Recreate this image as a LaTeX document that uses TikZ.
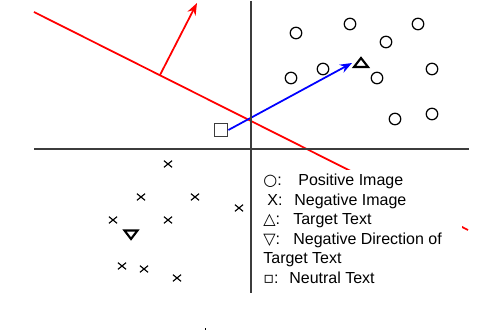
\documentclass[tikz,border=0pt]{standalone}
\usepackage{fontspec}
\setmainfont{Liberation Sans}
\newfontfamily\glyphfont{DejaVu Sans}
\usetikzlibrary{arrows.meta,shapes.misc}
\definecolor{axisgrey}{HTML}{3C3C3C}
\definecolor{hypred}{HTML}{FF0000}
\definecolor{dirblue}{HTML}{0000FF}
\tikzset{
  axis/.style={axisgrey,line width=0.8pt},
  hypline/.style={hypred,line width=1pt},
  posimg/.style={circle,draw=black,line width=0.7pt,minimum size=0.23cm,inner sep=0pt},
  negimg/.style={cross out,draw=black,line width=0.65pt,minimum width=0.14cm,
                 minimum height=0.11cm,inner sep=0pt},
  tritext/.style={black,line width=1.2pt,line join=miter},
  neutral/.style={rectangle,draw=axisgrey,fill=white,line width=0.75pt,
                  minimum size=0.27cm,inner sep=0pt},
  legtext/.style={anchor=base west,inner sep=0pt,font=\fontsize{9.1}{11}\selectfont}
}

\begin{document}
\begin{tikzpicture}[x=0.02cm,y=-0.02cm,>={Stealth[length=0.24cm,width=0.18cm]}]
    \useasboundingbox (0,0) rectangle (504,330);

    % hyperplane and its normal
    \coordinate (hypA) at (34,12);
    \coordinate (hypB) at (468,230);
    \coordinate (hypM) at (160,75);
    \coordinate (normTip) at (197,3);
    \draw[hypline] (hypA) -- (hypB);
    \draw[hypline,->] (hypM) -- (normTip);

    % positive images
    \foreach \x/\y [count=\i] in {296/33,350/24,418/24,386/42,323/69,
                                  291/78,377/78,432/69,395/119,432/114}
      \node[posimg] (pos\i) at (\x,\y) {};

    % negative images
    \foreach \x/\y [count=\i] in {168/164,141/197,195/197,239/208,113/220,
                                  168/220,122/266,144/269,177/278}
      \node[negimg] (neg\i) at (\x,\y) {};

    % target text and negative direction
    \draw[tritext] (361,58) -- (354,67) -- (368,67) -- cycle;
    \draw[tritext] (124.5,230.5) -- (137.5,230.5) -- (131,239) -- cycle;
    \coordinate (target) at (352,63);

    % neutral text
    \node[neutral] (neutral) at (221,130) {};
    \draw[dirblue,line width=1pt,->] (neutral.east) -- (target);

    % legend
    \fill[white] (253,170) rectangle (462,292);
    \foreach \y/\txt [count=\i] in {
        186/{\makebox[0.7cm][l]{{\glyphfont ○}:}Positive Image},
        205.5/{\makebox[0.62cm][l]{\hspace{0.08cm}X:}Negative Image},
        225/{\makebox[0.6cm][l]{{\glyphfont △}:}Target Text},
        244.5/{\makebox[0.6cm][l]{{\glyphfont ▽}:}Negative Direction of},
        264/{Target Text},
        283.5/{\makebox[0.52cm][l]{{\glyphfont ▫}:}Neutral Text}}
      \node[legtext] (leg\i) at (263,\y) {\txt};

    % axes
    \draw[axis] (34,149) -- (469,149);
    \draw[axis] (251,1) -- (251,293);

    \fill (204.5,328.5) rectangle (206,330);
  \end{tikzpicture}
\end{document}
